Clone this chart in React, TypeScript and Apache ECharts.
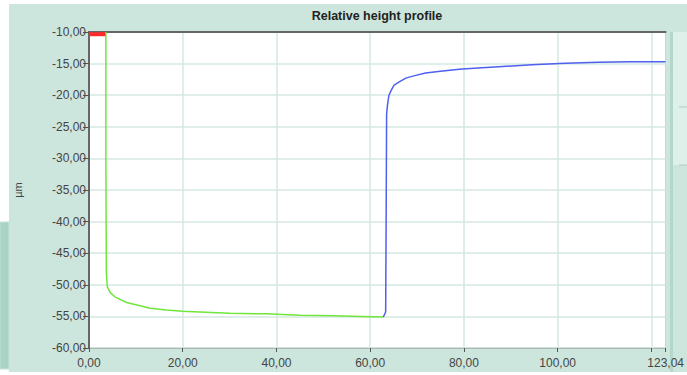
import React, { useEffect, useRef } from "react";
import * as echarts from "echarts";

const titleText = "Relative height profile";
const yAxisName = "µm";
const xMin = 0;
const xMax = 123.04;
const xInterval = 20;
const yMin = -60;
const yMax = -10;
const yInterval = 5;

const redX = [0, 3.5];
const redY = [-10.35, -10.35];

const greenX = [3.6, 3.6, 3.7, 3.9, 4.5, 5.5, 6.6, 8, 10.9, 13, 16.5, 20, 23.6, 30, 37.8, 45, 52, 58, 62.8];
const greenY = [-10, -30, -48, -50.3, -51.2, -51.9, -52.3, -52.8, -53.3, -53.7, -54.0, -54.2, -54.3, -54.5, -54.6, -54.8, -54.9, -55.0, -55.1];

const blueX = [62.8, 63.3, 63.4, 63.5, 63.7, 64, 64.5, 65.1, 66.2, 67.6, 69.5, 71.8, 75, 79, 83, 87.4, 94.5, 101.6, 108.7, 115.7, 123];
const blueY = [-55.1, -54.3, -40, -23, -21.5, -20, -19.2, -18.4, -17.9, -17.3, -16.9, -16.5, -16.2, -15.9, -15.7, -15.5, -15.2, -14.95, -14.8, -14.7, -14.7];

const zip = (xs: number[], ys: number[]) => xs.map((x, i) => [x, ys[i]]);
const fmt = (v: number) => v.toFixed(2).replace(".", ",");

export default function App() {
  const ref = useRef<HTMLDivElement>(null);
  useEffect(() => {
    if (!ref.current) return;
    const chart = echarts.init(ref.current, null, { renderer: "svg" });
    const font = "'Liberation Sans', Arial, sans-serif";
    chart.setOption({
      animation: false,
      backgroundColor: "#cde6dd",
      textStyle: { fontFamily: font },
      graphic: [
        { type: "rect", shape: { x: 0, y: 0, width: 687, height: 4 }, style: { fill: "#ffffff" }, silent: true },
        { type: "rect", shape: { x: 0, y: 0, width: 9, height: 375 }, style: { fill: "#ffffff" }, silent: true },
        { type: "rect", shape: { x: 0, y: 372, width: 687, height: 3 }, style: { fill: "#ffffff" }, silent: true },
        { type: "rect", shape: { x: 0, y: 222, width: 9, height: 147 }, style: { fill: "#a9d3c5", stroke: "#c6e2d8", lineWidth: 1 }, silent: true },
        { type: "rect", shape: { x: 670, y: 32, width: 3, height: 340 }, style: { fill: "#b3d8cb" }, silent: true },
        { type: "rect", shape: { x: 673, y: 32, width: 14, height: 133 }, style: { fill: "#def0ea" }, silent: true },
        { type: "line", shape: { x1: 679, y1: 107, x2: 687, y2: 107 }, style: { stroke: "#aacfc2", lineWidth: 1 }, silent: true },
        { type: "line", shape: { x1: 679, y1: 165, x2: 687, y2: 165 }, style: { stroke: "#aacfc2", lineWidth: 1 }, silent: true },
        {
          type: "text",
          x: 377,
          y: 16,
          style: {
            text: titleText,
            fontFamily: font,
            fontSize: 12.5,
            fontWeight: "bold",
            fill: "#222",
            align: "center",
            verticalAlign: "middle",
          },
        },
      ],
      grid: {
        left: 89,
        top: 32,
        right: 18,
        bottom: 27,
        show: true,
        backgroundColor: "#ffffff",
        borderColor: "#999",
        borderWidth: 1,
      },
      xAxis: [
        {
          type: "value",
          min: xMin,
          max: xMax,
          interval: xInterval,
          axisLine: { show: true, onZero: false, lineStyle: { color: "#aab8b2", width: 1 } },
          axisTick: { show: true, length: 4, lineStyle: { color: "#555" } },
          axisLabel: {
            color: "#444",
            fontSize: 12,
            margin: 9,
            fontFamily: font,
            formatter: (v: number) => (Math.abs(v - 120) < 1e-6 ? "" : fmt(v)),
          },
          splitLine: { show: true, lineStyle: { color: "#d5e9e1", width: 1.5 } },
        },
        {
          type: "value",
          position: "top",
          min: xMin,
          max: xMax,
          axisLine: { show: true, onZero: false, lineStyle: { color: "#666", width: 2 } },
          axisTick: { show: false },
          axisLabel: { show: false },
          splitLine: { show: false },
        },
      ],
      yAxis: {
        type: "value",
        min: yMin,
        max: yMax,
        interval: yInterval,
        name: yAxisName,
        nameLocation: "middle",
        nameRotate: 90,
        nameGap: 66,
        nameTextStyle: { color: "#444", fontSize: 11, fontFamily: font },
        axisLine: { show: true, onZero: false, lineStyle: { color: "#666", width: 2 } },
        axisTick: { show: true, length: 6, lineStyle: { color: "#555" } },
        axisLabel: { color: "#444", fontSize: 12, margin: 3, fontFamily: font, formatter: (v: number) => fmt(v) },
        splitLine: { show: true, lineStyle: { color: "#d5e9e1", width: 1.5 } },
      },
      series: [
        {
          type: "line",
          data: zip(greenX, greenY),
          showSymbol: false,
          lineStyle: { color: "#6fe63a", width: 1.5 },
          smooth: false,
        },
        {
          type: "line",
          data: zip(blueX, blueY),
          showSymbol: false,
          lineStyle: { color: "#4f5ff0", width: 1.5 },
          smooth: false,
        },
        {
          type: "line",
          data: zip(redX, redY),
          showSymbol: false,
          lineStyle: { color: "#ff2a2a", width: 4 },
        },
      ],
    });
    return () => chart.dispose();
  }, []);
  return <div ref={ref} style={{ position: "fixed", left: 0, top: 0, width: 687, height: 375 }} />;
}
